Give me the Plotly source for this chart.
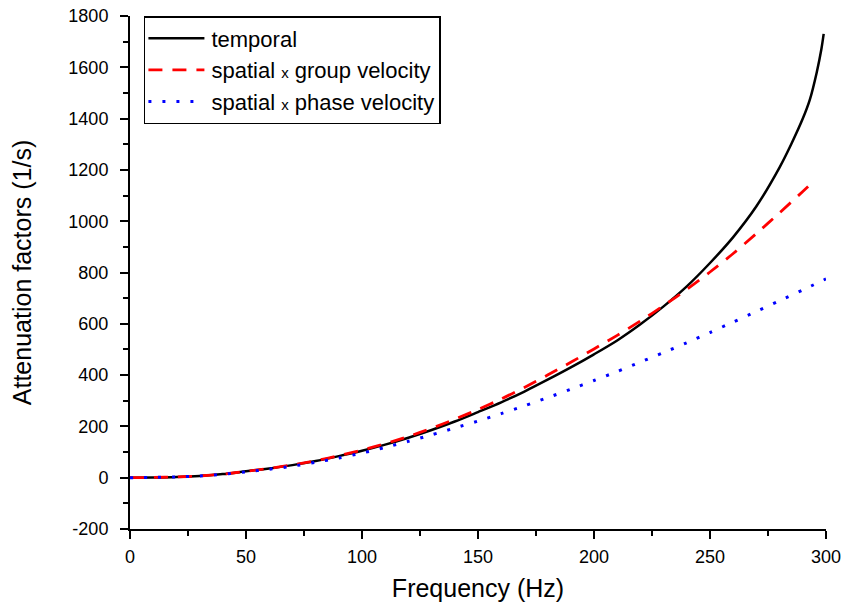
import plotly.graph_objects as go

freq_t = [0, 10, 20, 30, 40, 50, 60, 70, 80, 90, 100, 110, 120, 130, 140, 150, 160, 170, 180, 190, 200,
          210, 220, 230, 240, 250, 260, 270, 280, 285, 290, 293, 296, 298, 299]
temporal = [0, 1, 3, 7, 14, 25, 36, 49, 65, 84, 105, 129, 156, 186, 219, 256, 294, 336, 382, 430, 481,
            535, 598, 668, 746, 837, 938, 1058, 1210, 1300, 1400, 1473, 1580, 1670, 1730]

freq_g = [0, 10, 20, 30, 40, 50, 60, 70, 80, 90, 100, 110, 120, 130, 140, 150, 160, 170, 180, 190, 200,
          210, 220, 230, 240, 250, 260, 270, 280, 290, 294]
group = [0, 1, 3, 7, 14, 25, 36, 50, 66, 86, 108, 133, 161, 193, 228, 266, 307, 352, 400, 450, 502,
         555, 611, 671, 734, 802, 874, 952, 1033, 1116, 1150]

freq_p = [0, 10, 20, 30, 40, 50, 60, 70, 80, 90, 100, 110, 120, 130, 140, 150, 160, 170, 180, 190, 200,
          210, 220, 230, 240, 250, 260, 270, 280, 290, 300]
phase = [0, 1, 3, 7, 13, 23, 33, 45, 60, 77, 96, 118, 142, 167, 194, 221, 250, 280, 312, 345, 379,
         414, 451, 488, 526, 566, 607, 648, 690, 732, 775]

x_ticks = [0, 50, 100, 150, 200, 250, 300]
y_ticks = [-200, 0, 200, 400, 600, 800, 1000, 1200, 1400, 1600, 1800]
y_ticktext = ["-200", "0", "200", "400", "600", "800", "1000", "1200", "1400", "1600", "1800"]

FONT = "Arial, Liberation Sans, sans-serif"

fig = go.Figure()
fig.add_trace(go.Scatter(x=freq_t, y=temporal, mode="lines", name="temporal",
                         line=dict(color="black", width=2.5, shape="spline", smoothing=0.8)))
fig.add_trace(go.Scatter(x=freq_g, y=group, mode="lines",
                         name="spatial <span style='font-size:15px'>x</span> group velocity",
                         line=dict(color="red", width=2.8, dash="14px,10px", shape="spline", smoothing=0.8)))
fig.add_trace(go.Scatter(x=freq_p, y=phase, mode="lines",
                         name="spatial <span style='font-size:15px'>x</span> phase velocity",
                         line=dict(color="blue", width=3, dash="3px,11px", shape="spline", smoothing=0.8)))

axis_common = dict(showline=True, linecolor="black", linewidth=2, ticks="outside", ticklen=8,
                   tickwidth=2, tickcolor="black", showgrid=False, zeroline=False, mirror=False,
                   automargin=False, ticklabeloverflow="allow",
                   tickfont=dict(family=FONT, size=18, color="black"))

fig.update_xaxes(range=[0, 300], tickvals=x_ticks, ticklabelstandoff=2,
                 minor=dict(ticks="outside", ticklen=5, tickwidth=2, tickcolor="black", dtick=25, tick0=0),
                 title=dict(text="Frequency (Hz)", font=dict(family=FONT, size=25, color="black"),
                            standoff=14),
                 **axis_common)
fig.update_yaxes(range=[-200, 1800], tickvals=y_ticks, ticktext=y_ticktext, ticklabelstandoff=8,
                 minor=dict(ticks="outside", ticklen=5, tickwidth=2, tickcolor="black", dtick=100, tick0=0),
                 title=dict(text="Attenuation factors (1/s)", font=dict(family=FONT, size=25, color="black"),
                            standoff=30),
                 **axis_common)

fig.update_layout(
    width=845, height=613,
    margin=dict(l=130, r=19, t=16, b=84),
    plot_bgcolor="white", paper_bgcolor="white",
    showlegend=True,
    legend=dict(x=0.02, y=1.0, xanchor="left", yanchor="top", bgcolor="white",
                bordercolor="black", borderwidth=1.5,
                font=dict(family=FONT, size=22, color="black"),
                tracegroupgap=0, itemwidth=56),
)

post = """
document.body.style.margin = '0';
document.body.style.overflow = 'hidden';
function extendLegendLines(){
  document.querySelectorAll('g.legendlines path').forEach(function(p){
    p.setAttribute('d','M3,0h56');
  });
}
extendLegendLines();
setTimeout(extendLegendLines, 0);
setTimeout(extendLegendLines, 200);
"""

fig.write_html("out.html", post_script=post, config={"displayModeBar": False})
